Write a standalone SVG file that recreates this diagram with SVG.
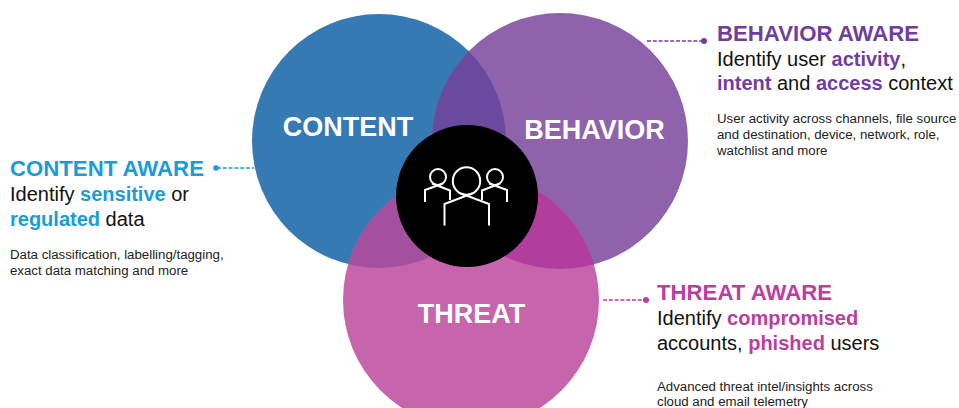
<svg xmlns="http://www.w3.org/2000/svg" width="959" height="408" viewBox="0 0 959 408">
<style>
text{font-family:"Liberation Sans",Arial,sans-serif}
.big{font-size:27px;font-weight:700;fill:#fff}
.h{font-size:22.2px;font-weight:700}
.s{font-size:20px;fill:#111}
.s tspan{font-weight:700}
.d{font-size:13.25px;fill:#222}
.c{fill:#1a9cd8}.b{fill:#6f3f9e}.t{fill:#b9409f}
.ln{fill:none;stroke-width:1.6;stroke-dasharray:4 1.8}
.ic{fill:none;stroke:#fff;stroke-width:2}
</style>
<defs>
<clipPath id="cc"><circle cx="379" cy="141" r="127"/></clipPath>
<clipPath id="cb"><circle cx="560" cy="141" r="128"/></clipPath>
</defs>
<rect width="959" height="408" fill="#fff"/>
<g id="connectors">
<path class="ln" stroke="#1a9cd8" d="M217 168H254"/><circle cx="216" cy="168" r="2.8" fill="#1a9cd8"/>
<path class="ln" stroke="#6f3f9e" d="M647 41H703"/><circle cx="704" cy="41" r="3" fill="#6f3f9e"/>
<path class="ln" stroke="#b9409f" d="M603 300H645"/><circle cx="646" cy="300" r="3" fill="#b9409f"/>
</g>
<g id="content"><circle cx="379" cy="141" r="127" fill="#357ab3"/><text class="big" x="348" y="136" text-anchor="middle">CONTENT</text></g>
<g id="behavior"><circle cx="560" cy="141" r="128" fill="#8f63ac"/><circle cx="560" cy="141" r="128" fill="#6a4a9e" clip-path="url(#cc)"/><text class="big" x="594.500" y="139" text-anchor="middle">BEHAVIOR</text></g>
<g id="threat"><circle cx="471" cy="300" r="128" fill="#c665ab"/><g clip-path="url(#cc)"><circle cx="471" cy="300" r="128" fill="#a5509f"/></g><g clip-path="url(#cb)"><circle cx="471" cy="300" r="128" fill="#b13e9c"/></g><text class="big" x="471.500" y="323" text-anchor="middle">THREAT</text></g>
<g id="users"><circle cx="467" cy="196" r="71" fill="#000"/>
<g class="ic"><circle cx="466.500" cy="181" r="13.700"/><circle cx="438" cy="177" r="8"/><circle cx="495" cy="177" r="8"/>
<path d="M444.500 225.500V204L472 193.500M489 225.500V204L461 193.500"/>
<path d="M425 202V190L443 183.500M450 200V190.500L432 183.500M507 202V190L489 183.500M482 200V190.500L500 183.500"/></g></g>
<g id="content-aware">
<text class="h c" x="10" y="176">CONTENT AWARE</text>
<text class="s" x="10" y="201">Identify <tspan class="c">sensitive</tspan> or</text>
<text class="s" x="10" y="226"><tspan class="c">regulated</tspan> data</text>
<text class="d" x="10" y="259">Data classification, labelling/tagging,</text>
<text class="d" x="10" y="275">exact data matching and more</text>
</g>
<g id="behavior-aware">
<text class="h b" x="717" y="41">BEHAVIOR AWARE</text>
<text class="s" x="717" y="66">Identify user <tspan class="b">activity</tspan>,</text>
<text class="s" x="717" y="90"><tspan class="b">intent</tspan> and <tspan class="b">access</tspan> context</text>
<text class="d" x="717" y="123">User activity across channels, file source</text>
<text class="d" x="717" y="139">and destination, device, network, role,</text>
<text class="d" x="717" y="155">watchlist and more</text>
</g>
<g id="threat-aware">
<text class="h t" x="657" y="300">THREAT AWARE</text>
<text class="s" x="657" y="325">Identify <tspan class="t">compromised</tspan></text>
<text class="s" x="657" y="350">accounts, <tspan class="t">phished</tspan> users</text>
<text class="d" x="657" y="391">Advanced threat intel/insights across</text>
<text class="d" x="657" y="406">cloud and email telemetry</text>
</g>
</svg>
